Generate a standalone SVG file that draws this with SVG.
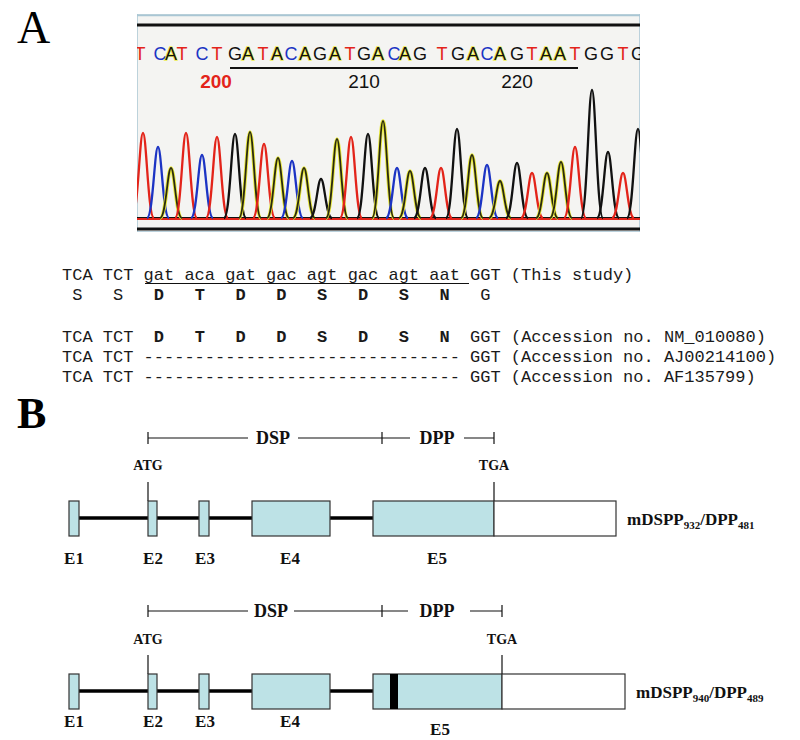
<svg xmlns="http://www.w3.org/2000/svg" width="800" height="740" viewBox="0 0 800 740">
<style>
.panel{font-family:"Liberation Serif",serif;fill:#000}
.b{font-family:"Liberation Sans",Arial,sans-serif;font-size:18px;text-anchor:middle}
.bT{fill:#e3241a}.bC{fill:#1c34c4}.bG{fill:#111}
.bA{fill:#111;stroke:#ecec50;stroke-width:1.6;paint-order:stroke}
.num{font-family:"Liberation Sans",Arial,sans-serif;font-size:19px;text-anchor:middle}
.pk{fill:none;stroke-width:2.3;stroke-linejoin:round}
.pT{stroke:#e3241a}.pC{stroke:#1c34c4}.pG{stroke:#111}
.halo{fill:none;stroke:#e8e838;stroke-width:3.6}
.pA{stroke:#2a2a10;stroke-width:1.8}
.seq{font-family:"Liberation Mono","Courier New",monospace;font-size:17px;fill:#1a1a1a}
.bold{font-weight:bold}
.lab{font-family:"Liberation Serif",serif;font-weight:bold;fill:#111}
.ex{fill:#bde2e6;stroke:#333;stroke-width:1.2}
.utr{fill:#fff;stroke:#333;stroke-width:1.2}
.intron{stroke:#000;stroke-width:3.5}
.thin{stroke:#111;stroke-width:1.2;fill:none}
</style>
<defs>
<clipPath id="chromClip"><rect x="137" y="14" width="503" height="218"/></clipPath>
<path id="pk" d="M-11 0C-5 0 -3.5 -1 0 -1C3.5 -1 5 0 11 0" vector-effect="non-scaling-stroke"/>
</defs>
<rect width="800" height="740" fill="#fff"/>

<text class="panel" x="17" y="43" font-size="46">A</text>

<g id="chromatogram" clip-path="url(#chromClip)">
<rect x="137" y="14" width="503" height="218" fill="#f4f4f2" stroke="#a9c6d4" stroke-width="1.5"/>
<line x1="137" y1="15.5" x2="640" y2="15.5" stroke="#a9c6d4" stroke-width="1.5"/>
<line x1="137" y1="25" x2="640" y2="25" stroke="#111" stroke-width="3"/>
<g id="bases">
<text class="b bT" x="140" y="60">T</text>
<text class="b bC" x="160" y="60">C</text>
<text class="b bA" x="171" y="60">A</text>
<text class="b bT" x="182" y="60">T</text>
<text class="b bC" x="202" y="60">C</text>
<text class="b bT" x="217" y="60">T</text>
<text class="b bG" x="235" y="60">G</text>
<text class="b bA" x="248" y="60">A</text>
<text class="b bT" x="263" y="60">T</text>
<text class="b bA" x="277" y="60">A</text>
<text class="b bC" x="291" y="60">C</text>
<text class="b bA" x="305" y="60">A</text>
<text class="b bG" x="320" y="60">G</text>
<text class="b bA" x="335" y="60">A</text>
<text class="b bT" x="350" y="60">T</text>
<text class="b bG" x="364" y="60">G</text>
<text class="b bA" x="378" y="60">A</text>
<text class="b bC" x="394" y="60">C</text>
<text class="b bA" x="405" y="60">A</text>
<text class="b bG" x="420" y="60">G</text>
<text class="b bT" x="442" y="60">T</text>
<text class="b bG" x="458" y="60">G</text>
<text class="b bA" x="473" y="60">A</text>
<text class="b bC" x="487" y="60">C</text>
<text class="b bA" x="500" y="60">A</text>
<text class="b bG" x="517" y="60">G</text>
<text class="b bT" x="532" y="60">T</text>
<text class="b bA" x="546" y="60">A</text>
<text class="b bA" x="560" y="60">A</text>
<text class="b bT" x="575" y="60">T</text>
<text class="b bG" x="591" y="60">G</text>
<text class="b bG" x="607" y="60">G</text>
<text class="b bT" x="623" y="60">T</text>
<text class="b bG" x="638" y="60">G</text>
</g>
<line x1="230" y1="68" x2="578" y2="68" stroke="#111" stroke-width="1.8"/>
<text class="num" x="216" y="88" fill="#e3241a" font-weight="bold">200</text>
<text class="num" x="364" y="88" fill="#111">210</text>
<text class="num" x="517" y="88" fill="#111">220</text>

<line x1="137" y1="219" x2="640" y2="219" stroke="#e3241a" stroke-width="2.2"/>
<line x1="137" y1="217.5" x2="640" y2="217.5" stroke="#111" stroke-width="1.2"/>
<g id="peaks">
<use href="#pk" class="pk pT" transform="translate(143 218) scale(1 85)"/>
<use href="#pk" class="pk pC" transform="translate(158 218) scale(1 71)"/>
<use href="#pk" class="halo" transform="translate(171 218) scale(1 50)"/><use href="#pk" class="pk pA" transform="translate(171 218) scale(1 50)"/>
<use href="#pk" class="pk pT" transform="translate(186 218) scale(1 85)"/>
<use href="#pk" class="pk pC" transform="translate(202 218) scale(1 63)"/>
<use href="#pk" class="pk pT" transform="translate(217 218) scale(1 81)"/>
<use href="#pk" class="pk pG" transform="translate(235 218) scale(1 84)"/>
<use href="#pk" class="halo" transform="translate(250 218) scale(1 86)"/><use href="#pk" class="pk pA" transform="translate(250 218) scale(1 86)"/>
<use href="#pk" class="pk pT" transform="translate(264 218) scale(1 74)"/>
<use href="#pk" class="halo" transform="translate(278 218) scale(1 60)"/><use href="#pk" class="pk pA" transform="translate(278 218) scale(1 60)"/>
<use href="#pk" class="pk pC" transform="translate(292 218) scale(1 57)"/>
<use href="#pk" class="halo" transform="translate(304 218) scale(1 50)"/><use href="#pk" class="pk pA" transform="translate(304 218) scale(1 50)"/>
<use href="#pk" class="pk pG" transform="translate(321 218) scale(1 39)"/>
<use href="#pk" class="halo" transform="translate(337 218) scale(1 79)"/><use href="#pk" class="pk pA" transform="translate(337 218) scale(1 79)"/>
<use href="#pk" class="pk pT" transform="translate(351 218) scale(1 81)"/>
<use href="#pk" class="pk pG" transform="translate(368 218) scale(1 84)"/>
<use href="#pk" class="halo" transform="translate(383 218) scale(1 97)"/><use href="#pk" class="pk pA" transform="translate(383 218) scale(1 97)"/>
<use href="#pk" class="pk pC" transform="translate(397 218) scale(1 50)"/>
<use href="#pk" class="halo" transform="translate(410 218) scale(1 47)"/><use href="#pk" class="pk pA" transform="translate(410 218) scale(1 47)"/>
<use href="#pk" class="pk pG" transform="translate(425 218) scale(1 50)"/>
<use href="#pk" class="pk pT" transform="translate(441 218) scale(1 50)"/>
<use href="#pk" class="pk pG" transform="translate(457 218) scale(1 89)"/>
<use href="#pk" class="halo" transform="translate(472 218) scale(1 63)"/><use href="#pk" class="pk pA" transform="translate(472 218) scale(1 63)"/>
<use href="#pk" class="pk pC" transform="translate(487 218) scale(1 53)"/>
<use href="#pk" class="halo" transform="translate(500 218) scale(1 37)"/><use href="#pk" class="pk pA" transform="translate(500 218) scale(1 37)"/>
<use href="#pk" class="pk pG" transform="translate(517 218) scale(1 55)"/>
<use href="#pk" class="pk pT" transform="translate(532 218) scale(1 45)"/>
<use href="#pk" class="halo" transform="translate(547 218) scale(1 45)"/><use href="#pk" class="pk pA" transform="translate(547 218) scale(1 45)"/>
<use href="#pk" class="halo" transform="translate(561 218) scale(1 56)"/><use href="#pk" class="pk pA" transform="translate(561 218) scale(1 56)"/>
<use href="#pk" class="pk pT" transform="translate(575 218) scale(1 71)"/>
<use href="#pk" class="pk pG" transform="translate(592 218) scale(1 128)"/>
<use href="#pk" class="pk pG" transform="translate(608 218) scale(1 66)"/>
<use href="#pk" class="pk pT" transform="translate(623 218) scale(1 45)"/>
<use href="#pk" class="pk pG" transform="translate(638 218) scale(1 89)"/>
</g>
<line x1="137" y1="229" x2="640" y2="229" stroke="#111" stroke-width="3"/>
</g>

<g id="alignment">
<text class="seq" x="62" y="280" xml:space="preserve">TCA TCT gat aca gat gac agt gac agt aat GGT (This study)</text>
<line x1="145" y1="283.5" x2="469" y2="283.5" stroke="#111" stroke-width="1.2"/>
<text class="seq" x="62" y="300" xml:space="preserve"> S   S   <tspan class="bold">D</tspan>   <tspan class="bold">T</tspan>   <tspan class="bold">D</tspan>   <tspan class="bold">D</tspan>   <tspan class="bold">S</tspan>   <tspan class="bold">D</tspan>   <tspan class="bold">S</tspan>   <tspan class="bold">N</tspan>   G</text>
<text class="seq" x="62" y="342" xml:space="preserve">TCA TCT  <tspan class="bold">D</tspan>   <tspan class="bold">T</tspan>   <tspan class="bold">D</tspan>   <tspan class="bold">D</tspan>   <tspan class="bold">S</tspan>   <tspan class="bold">D</tspan>   <tspan class="bold">S</tspan>   <tspan class="bold">N</tspan>  GGT (Accession no. NM_010080)</text>
<text class="seq" x="62" y="362" xml:space="preserve">TCA TCT ------------------------------- GGT (Accession no. AJ00214100)</text>
<text class="seq" x="62" y="382" xml:space="preserve">TCA TCT ------------------------------- GGT (Accession no. AF135799)</text>
</g>

<text class="panel" x="17" y="428" font-size="44" font-weight="bold">B</text>

<g id="gene1">
<g id="g1-bracket">
<path class="thin" d="M148 432V444M148 438H248M298 438H382M382 432V444M382 438H410M464 438H494M494 432V444"/>
<text class="lab" x="273" y="444" font-size="18" text-anchor="middle">DSP</text>
<text class="lab" x="437" y="444" font-size="18" text-anchor="middle">DPP</text>
</g>
<g id="g1-markers">
<text class="lab" x="148" y="470" font-size="14" text-anchor="middle">ATG</text>
<text class="lab" x="494" y="470" font-size="14" text-anchor="middle">TGA</text>
<line class="thin" x1="148" y1="482" x2="148" y2="501"/>
<line class="thin" x1="494" y1="482" x2="494" y2="501"/>
</g>
<g id="g1-connectors">
<line class="intron" x1="79" y1="518" x2="148" y2="518"/>
<line class="intron" x1="157" y1="518" x2="199" y2="518"/>
<line class="intron" x1="209" y1="518" x2="252" y2="518"/>
<line class="intron" x1="330" y1="518" x2="373" y2="518"/>
</g>
<g id="g1-E1"><rect class="ex" x="69" y="501" width="10" height="35"/><text class="lab" x="74" y="564" font-size="17" text-anchor="middle">E1</text></g>
<g id="g1-E2"><rect class="ex" x="148" y="501" width="9" height="35"/><text class="lab" x="153" y="564" font-size="17" text-anchor="middle">E2</text></g>
<g id="g1-E3"><rect class="ex" x="199" y="501" width="10" height="35"/><text class="lab" x="205" y="564" font-size="17" text-anchor="middle">E3</text></g>
<g id="g1-E4"><rect class="ex" x="252" y="501" width="78" height="35"/><text class="lab" x="290" y="564" font-size="17" text-anchor="middle">E4</text></g>
<g id="g1-E5"><rect class="ex" x="373" y="501" width="121" height="35"/><rect class="utr" x="494" y="501" width="122" height="35"/><text class="lab" x="437" y="564" font-size="17" text-anchor="middle">E5</text></g>
<text class="lab" x="627" y="525" font-size="17">mDSPP<tspan font-size="11" dy="4">932</tspan><tspan dy="-4">/DPP</tspan><tspan font-size="11" dy="4">481</tspan></text>
</g>

<g id="gene2">
<g id="g2-bracket">
<path class="thin" d="M148 605V617M148 611H248M294 611H382M382 605V617M382 611H408M470 611H502M502 605V617"/>
<text class="lab" x="271" y="617" font-size="18" text-anchor="middle">DSP</text>
<text class="lab" x="437" y="617" font-size="18" text-anchor="middle">DPP</text>
</g>
<g id="g2-markers">
<text class="lab" x="148" y="644" font-size="14" text-anchor="middle">ATG</text>
<text class="lab" x="502" y="644" font-size="14" text-anchor="middle">TGA</text>
<line class="thin" x1="148" y1="655" x2="148" y2="674"/>
<line class="thin" x1="502" y1="655" x2="502" y2="674"/>
</g>
<g id="g2-connectors">
<line class="intron" x1="79" y1="691" x2="148" y2="691"/>
<line class="intron" x1="157" y1="691" x2="199" y2="691"/>
<line class="intron" x1="209" y1="691" x2="252" y2="691"/>
<line class="intron" x1="330" y1="691" x2="373" y2="691"/>
</g>
<g id="g2-E1"><rect class="ex" x="69" y="674" width="10" height="35"/><text class="lab" x="74" y="727" font-size="17" text-anchor="middle">E1</text></g>
<g id="g2-E2"><rect class="ex" x="148" y="674" width="9" height="35"/><text class="lab" x="153" y="727" font-size="17" text-anchor="middle">E2</text></g>
<g id="g2-E3"><rect class="ex" x="199" y="674" width="10" height="35"/><text class="lab" x="205" y="727" font-size="17" text-anchor="middle">E3</text></g>
<g id="g2-E4"><rect class="ex" x="252" y="674" width="78" height="35"/><text class="lab" x="290" y="727" font-size="17" text-anchor="middle">E4</text></g>
<g id="g2-E5"><rect class="ex" x="373" y="674" width="129" height="35"/><rect x="390" y="674" width="8" height="35" fill="#000"/><rect class="utr" x="502" y="674" width="123" height="35"/><text class="lab" x="440" y="735" font-size="17" text-anchor="middle">E5</text></g>
<text class="lab" x="636" y="698" font-size="17">mDSPP<tspan font-size="11" dy="4">940</tspan><tspan dy="-4">/DPP</tspan><tspan font-size="11" dy="4">489</tspan></text>
</g>
</svg>
